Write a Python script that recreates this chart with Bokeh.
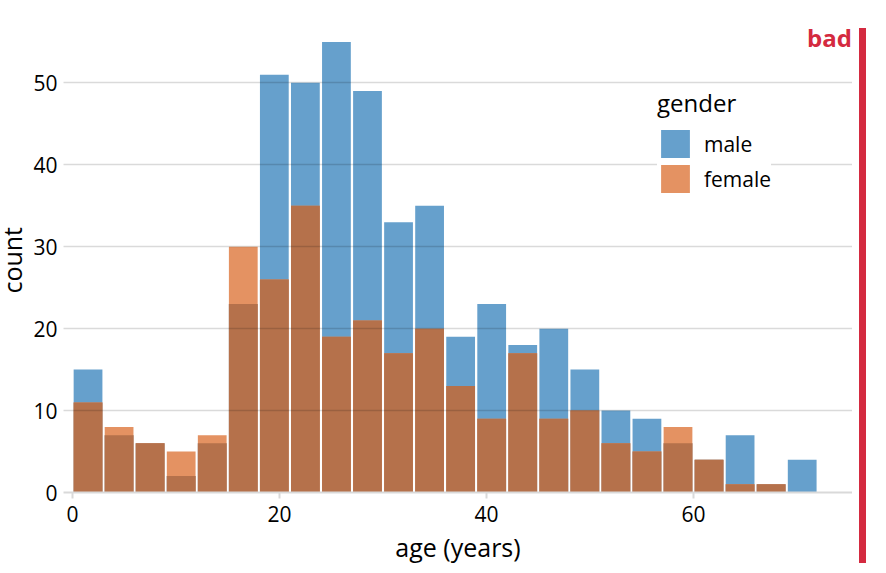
from bokeh.plotting import figure
from bokeh.layouts import row
from bokeh.models import Legend, LegendItem, Label, Range1d, FixedTicker, Div
from bokeh.embed import file_html
from bokeh.resources import INLINE

# ---- data ----
bin_start = [0, 3, 6, 9, 12, 15, 18, 21, 24, 27, 30, 33, 36, 39, 42, 45, 48, 51, 54, 57, 60, 63, 66, 69]
bin_width = 3
male = [15, 7, 6, 2, 6, 23, 51, 50, 55, 49, 33, 35, 19, 23, 18, 20, 15, 10, 9, 6, 4, 7, 1, 4]
female = [11, 8, 6, 5, 7, 30, 26, 35, 19, 21, 17, 20, 13, 9, 17, 9, 10, 6, 5, 8, 4, 1, 1, 0]
x_ticks = [0, 20, 40, 60]
y_ticks = [0, 10, 20, 30, 40, 50]

FONT = "Open Sans"
BLUE = "#66A0CC"
ORANGE = "#E49262"
BROWN = "#B5714B"
RED = "#D42A40"
GRID = "#D9D9D9"

X_START, X_END = -0.87, 75.36
Y_START, Y_END = 0, 57

gap = 0.11
left = [b + gap for b in bin_start]
right = [b + bin_width - gap for b in bin_start]
zeros = [0] * len(bin_start)
overlap = [min(m, f) for m, f in zip(male, female)]

LEFT_W = 26

# y-axis title, set vertically (bottom-to-top) in a narrow strip left of the plot
count_title = Div(width=LEFT_W, height=573, margin=0, text=(
    '<div style="position:relative;width:%dpx;height:573px;">'
    '<div style="position:absolute;left:2px;top:0px;height:520px;'
    'display:flex;align-items:center;justify-content:center;">'
    '<span style="writing-mode:vertical-rl;transform:rotate(180deg);'
    "font-family:'Open Sans';font-size:25px;line-height:20px;"
    'white-space:nowrap;color:black;">count</span></div></div>' % LEFT_W))

p = figure(width=852 - LEFT_W, height=573, output_backend="svg", toolbar_location=None,
           x_range=Range1d(X_START, X_END), y_range=Range1d(Y_START, Y_END),
           min_border_left=63 - LEFT_W, min_border_right=0, min_border_top=25, min_border_bottom=81)
p.outline_line_color = None
p.background_fill_color = "white"
p.border_fill_color = "white"

r_m = p.quad(left=left, right=right, bottom=zeros, top=male, fill_color=BLUE, line_color=None)
r_f = p.quad(left=left, right=right, bottom=zeros, top=female, fill_color=ORANGE, line_color=None)
p.quad(left=left, right=right, bottom=zeros, top=overlap, fill_color=BROWN, line_color=None)

# axes
p.xaxis.ticker = FixedTicker(ticks=x_ticks)
p.yaxis.ticker = FixedTicker(ticks=y_ticks)
p.xaxis.axis_label = "age (years)"
for ax in (p.xaxis, p.yaxis):
    ax.axis_label_text_font = FONT
    ax.axis_label_text_font_size = "25px"
    ax.axis_label_text_font_style = "normal"
    ax.axis_label_text_color = "black"
    ax.major_label_text_font = FONT
    ax.major_label_text_font_size = "21px"
    ax.major_label_text_color = "black"
    ax.minor_tick_line_color = None
p.xaxis.axis_line_color = GRID
p.xaxis.axis_line_width = 2
p.xaxis.major_tick_line_color = GRID
p.xaxis.major_tick_line_width = 2
p.xaxis.major_tick_out = 6
p.xaxis.major_tick_in = 0
p.xaxis.major_label_standoff = 7
p.xaxis.axis_label_standoff = 5
p.yaxis.axis_line_color = None
p.yaxis.major_tick_line_color = None
p.yaxis.major_tick_out = 0
p.yaxis.major_tick_in = 0
p.yaxis.major_label_standoff = 6

# horizontal grid drawn semi-transparently above the bars (as in the reference,
# where the bars are translucent and the grid shows through)
p.xgrid.grid_line_color = None
p.ygrid.grid_line_color = "black"
p.ygrid.grid_line_alpha = 0.145
p.ygrid.grid_line_width = 1.6
p.ygrid.level = "guide"

legend = Legend(items=[LegendItem(label="male", renderers=[r_m]),
                       LegendItem(label="female", renderers=[r_f])],
                title="gender", location=(594, 296))
legend.title_text_font = FONT
legend.title_text_font_size = "24px"
legend.title_text_font_style = "normal"
legend.title_text_color = "black"
legend.title_standoff = 7
legend.label_text_font = FONT
legend.label_text_font_size = "21px"
legend.label_text_color = "black"
legend.glyph_width = 36
legend.glyph_height = 35
legend.label_height = 35
legend.label_standoff = 11
legend.spacing = -8
legend.padding = 8
legend.margin = 0
legend.border_line_color = None
legend.background_fill_color = "white"
legend.background_fill_alpha = 1.0
p.add_layout(legend)

# "bad" tag, top right inside the panel
p.add_layout(Label(x=X_END - 0.05, y=55.55, text="bad",
                   text_align="right", text_baseline="alphabetic",
                   text_font=FONT, text_font_size="24px", text_font_style="bold",
                   text_color=RED))

# red vertical bar at the right edge
bar = Div(width=34, height=573, margin=0,
          text='<div style="width:7px;height:535px;margin:28px 0 0 7px;'
               'background-color:%s;"></div>' % RED)

layout = row(count_title, p, bar)
open("out.html", "w").write(file_html(layout, INLINE))
